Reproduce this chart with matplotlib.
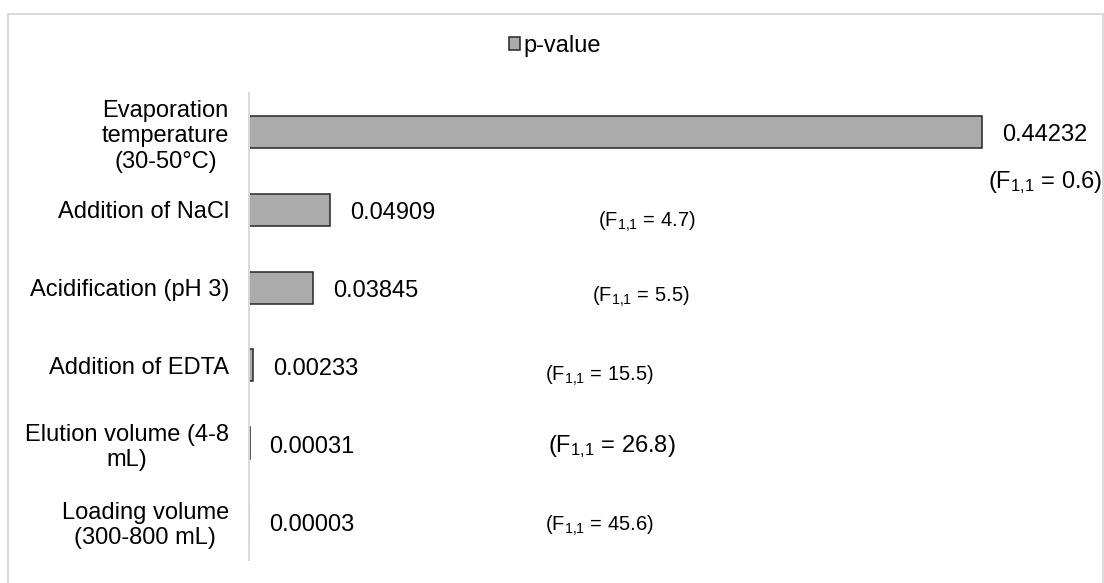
import matplotlib
matplotlib.use("Agg")
import matplotlib.pyplot as plt
from matplotlib.patches import Rectangle

plt.rcParams["font.family"] = ["Liberation Sans", "DejaVu Sans"]
plt.rcParams["mathtext.fontset"] = "custom"
plt.rcParams["mathtext.rm"] = "Liberation Sans"
plt.rcParams["mathtext.it"] = "Liberation Sans:italic"
plt.rcParams["mathtext.default"] = "regular"

factors = [
    "Evaporation\ntemperature\n(30-50°C)",
    "Addition of NaCl",
    "Acidification (pH 3)",
    "Addition of EDTA",
    "Elution volume (4-8\nmL)",
    "Loading volume\n(300-800 mL)",
]
p_values = [0.44232, 0.04909, 0.03845, 0.00233, 0.00031, 0.00003]
p_labels = ["0.44232", "0.04909", "0.03845", "0.00233", "0.00031", "0.00003"]
f_values = ["0.6", "4.7", "5.5", "15.5", "26.8", "45.6"]

# centre of each F annotation (x in data units, y offset from the bar centre)
f_pos = [(0.4805, 0.65), (0.2399, 0.15), (0.2363, 0.12),
         (0.2116, 0.13), (0.2188, 0.04), (0.2116, 0.06)]
f_size = [17, 14.5, 14.5, 14.5, 17, 14.5]

fig = plt.figure(figsize=(11.04, 5.83), dpi=100)
fig.patches.append(Rectangle((8 / 1104, -0.02), 1095 / 1104, 569 / 583 + 0.02,
                             transform=fig.transFigure, fill=False,
                             edgecolor="#d9d9d9", linewidth=1.4))

ax = fig.add_axes([249 / 1104, 1 - 560 / 583, (1078 - 249) / 1104, 467 / 583])

y = list(range(len(factors)))
bars = ax.barh(y, p_values, height=0.41, color="#ababab",
               edgecolor="#262626", linewidth=1.1, label="p-value")

ax.set_xlim(0, 0.5)
ax.set_ylim(len(factors) - 0.5, -0.5)

for yi, v, txt in zip(y, p_values, p_labels):
    ax.annotate(txt, (v, yi), xytext=(14.4, -2.5), textcoords="offset points",
                ha="left", va="center", fontsize=17, color="black")

for yi, f, (fx, dy), fs in zip(y, f_values, f_pos, f_size):
    ax.text(fx, yi + dy, r"(F$_{1{,}1}$ = " + f + ")", ha="center",
            va="center", fontsize=fs, color="black")

ax.set_yticks(y)
ax.set_yticklabels(factors, fontsize=17, color="black")
for lab in ax.get_yticklabels():
    lab.set_multialignment("center")
ax.tick_params(axis="y", length=0, pad=14.4)
ax.set_xticks([])

for s in ["top", "right", "bottom"]:
    ax.spines[s].set_visible(False)
ax.spines["left"].set_color("#d9d9d9")
ax.spines["left"].set_linewidth(1.4)

fig.legend(handles=[bars], labels=["p-value"], loc="center",
           bbox_to_anchor=(555 / 1104, 1 - 46 / 583), frameon=False,
           fontsize=17, handlelength=0.47, handleheight=0.47,
           handletextpad=0.15)

fig.savefig("out.png", dpi=100)
